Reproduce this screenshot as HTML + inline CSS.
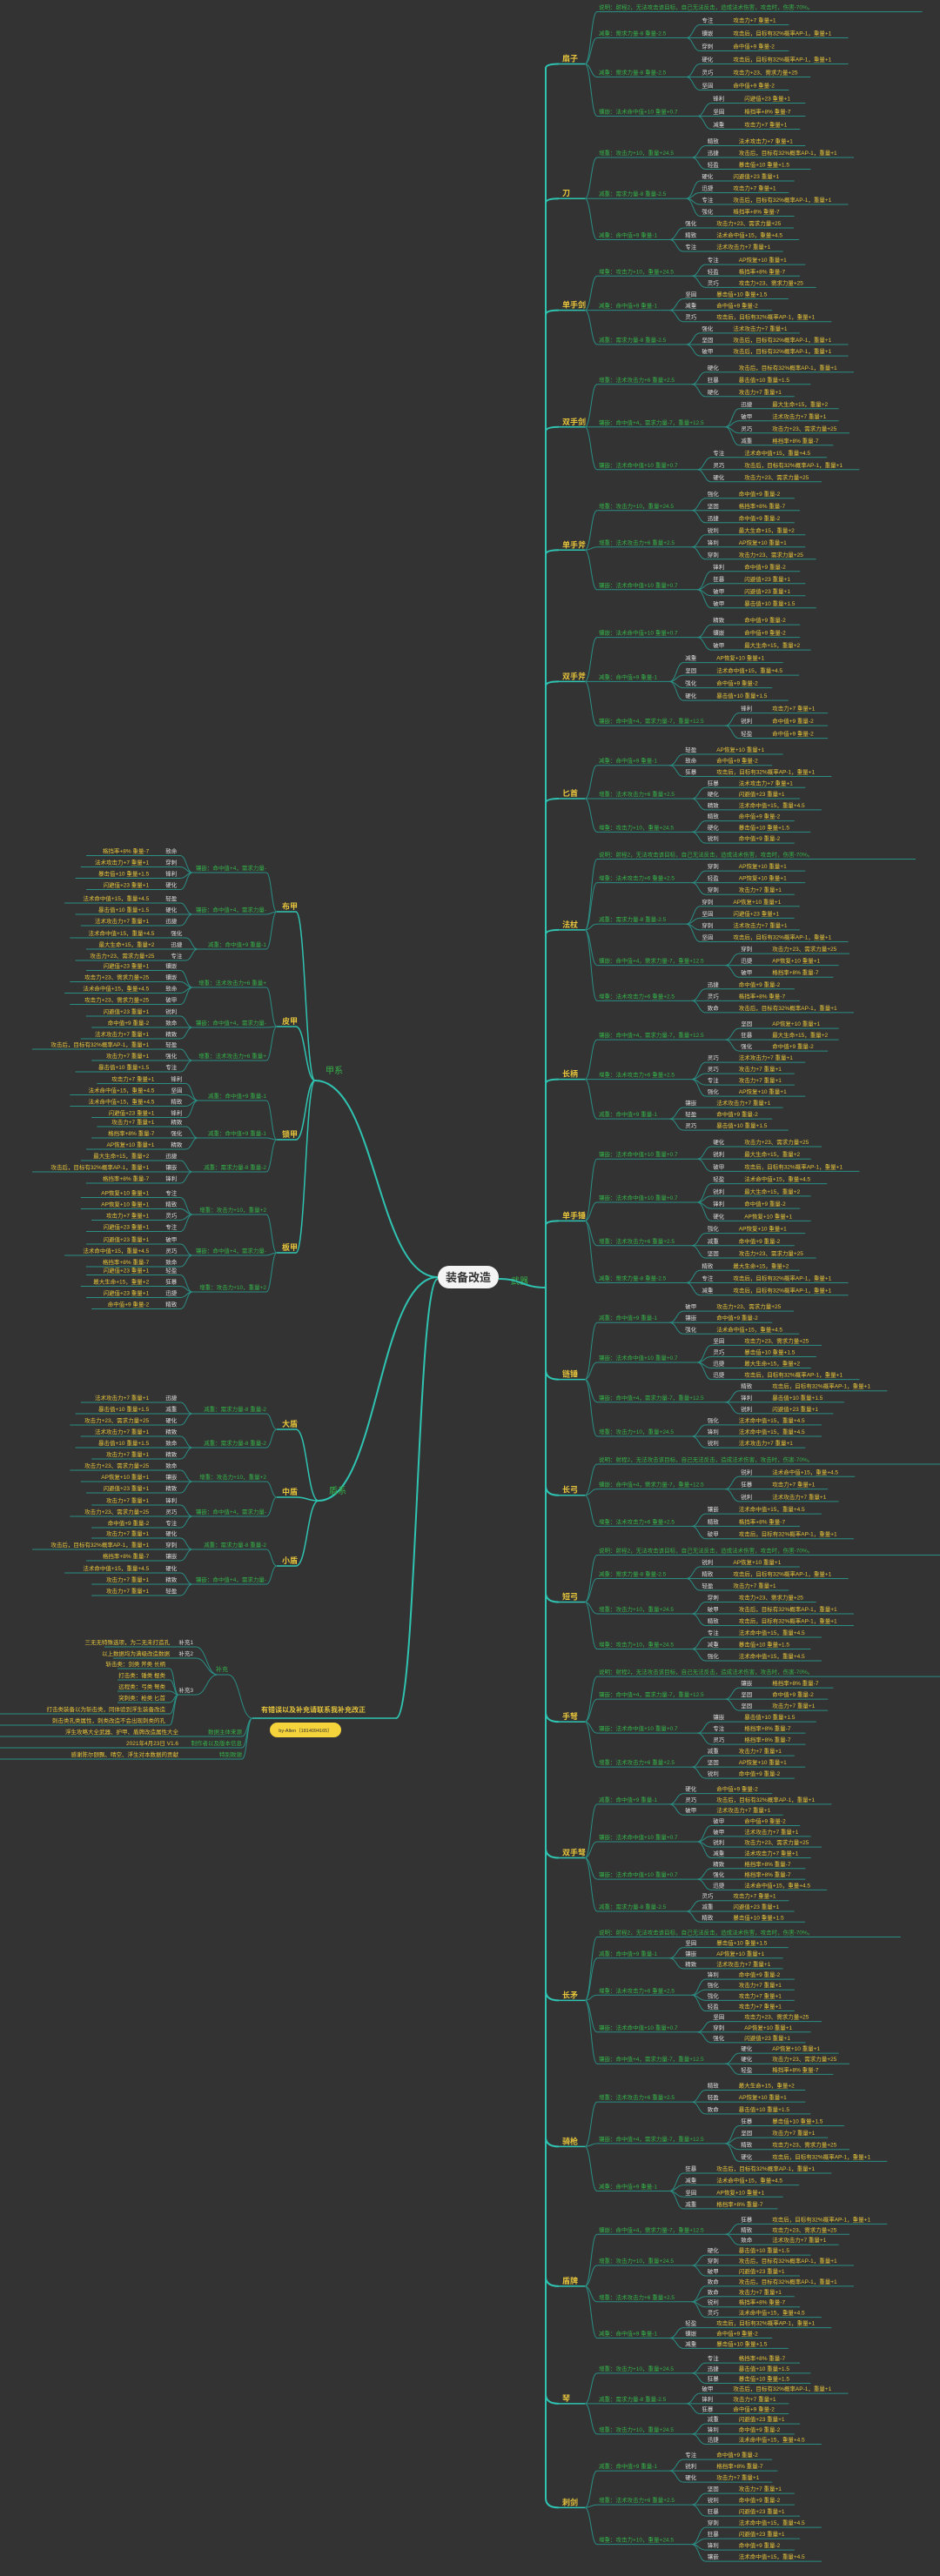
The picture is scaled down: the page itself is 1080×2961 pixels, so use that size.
<!DOCTYPE html>
<html><head><meta charset="utf-8">
<style>
html,body{margin:0;padding:0;background:#333333;}
svg{display:block;}
text{font-family:"Liberation Sans","Noto Sans CJK SC",sans-serif;}
</style></head>
<body>
<svg id="s" width="1080" height="2961" viewBox="0 0 1080 2961" xmlns="http://www.w3.org/2000/svg">
<rect width="1080" height="2961" fill="#333333"/>
<g id="g"></g>
</svg>
<script>
var G=document.getElementById('g'),NS='http://www.w3.org/2000/svg';
function el(t,a,txt){var e=document.createElementNS(NS,t);for(var k in a)e.setAttribute(k,a[k]);if(txt!=null)e.textContent=txt;G.appendChild(e);return e;}
function line(d,c,w){el('path',{d:d,fill:'none',stroke:c,'stroke-width':w});}
function tx(x,y,s,c,sz,anc,b){el('text',{x:x,y:y,fill:c,'font-size':sz,'text-anchor':anc||'start','font-weight':b?'bold':'normal'},s);}
function cv(x1,y1,x2,y2){var m=(x1+x2)/2;return 'M'+x1+' '+y1+' C'+m+' '+y1+' '+m+' '+y2+' '+x2+' '+y2;}
var seed=7;function rnd(){seed=(seed*9301+49297)%233280;return seed/233280;}
var TEAL='#2fc4b2',LT='#2a8f85',GR='#34b34a',YE='#e6c43c',WH='#dddddd';
var labs=['减重','精致','锋利','专注','硬化','强化','轻盈','坚固','镶嵌','锐利','灵巧','狂暴','致命','破甲','穿刺','迅捷'];
var vals=['命中值+9 重量-2','攻击力+7 重量+1','暴击值+10 重量+1.5','法术命中值+15，重量+4.5','攻击后，目标有32%概率AP-1，重量+1','AP恢复+10 重量+1','格挡率+8% 重量-7','闪避值+23 重量+1','攻击力+23、需求力量+25','最大生命+15，重量+2','法术攻击力+7 重量+1'];
var subs=['减重：命中值+9 重量-1','镶嵌：法术命中值+10 重量+0.7','增重：法术攻击力+6 重量+2.5','减重：需求力量-8 重量-2.5','镶嵌：命中值+4，需求力量-7，重量+12.5','增重：攻击力+10，重量+24.5'];
// center
el('rect',{x:503,y:1455,width:70,height:26,rx:13,fill:'#f4f4f4'});
tx(538,1473,'装备改造','#333',13,'middle',true);
// right
tx(597,1476,'武器',GR,10,'middle');
var R=[['扇子',0,150,1,[3,3,3]],['刀',155,290,0,[3,4,3]],['单手剑',292,410,0,[3,3,3]],['双手剑',415,555,0,[3,4,3]],['单手斧',560,700,0,[3,3,4]],['双手斧',705,850,0,[3,4,3]],['匕首',855,970,0,[3,3,3]],['法杖',975,1165,1,[3,4,3,3]],['长柄',1170,1300,0,[3,4,3]],['单手锤',1305,1490,0,[3,4,3,3]],['链锤',1495,1665,0,[3,4,3,3]],['长弓',1670,1770,1,[3,3]],['短弓',1775,1910,1,[3,3,3]],['手弩',1915,2045,1,[3,3,3]],['双手弩',2050,2210,0,[3,4,3,3]],['长矛',2215,2385,1,[3,4,3,3]],['骑枪',2390,2540,0,[3,4,4]],['盾牌',2545,2700,0,[3,3,4,3]],['琴',2705,2810,0,[3,3,3]],['刺剑',2815,2945,0,[3,3,4]]];
line('M573 1470 C600 1470 600 1480 627 1480',TEAL,2);
R.forEach(function(c){
 var rows=c[3]+c[4].reduce(function(a,b){return a+b},0),h=(c[2]-c[1])/rows,y=c[1]+h*0.7,sy=[],items=[];
 if(c[3]){sy.push(y);items.push({note:1,y:y});y+=h;}
 c[4].forEach(function(n){var ys=[];for(var i=0;i<n;i++){ys.push(y);y+=h;}var m=(ys[0]+ys[n-1])/2;sy.push(m);items.push({y:m,ls:ys});});
 var cy=(sy[0]+sy[sy.length-1])/2;
 var dy=cy>1480?1:-1;
 line('M627 1480 L627 '+(cy-dy*8)+' Q627 '+(cy+3)+' 642 '+(cy+3),TEAL,2);
 line('M642 '+(cy+3)+' L672 '+(cy+3),TEAL,1.5);
 tx(646,cy,c[0],YE,9,'start',true);
 items.forEach(function(it){
  if(it.note){var w=300+rnd()*150;line(cv(672,cy+3,686,it.y+3)+' L'+(686+w)+' '+(it.y+3),LT,1);tx(688,it.y,'说明：射程2，无法攻击该目标，自己无法反击，造成法术伤害，攻击时，伤害-70%。',GR,6.5);return;}
  var s=subs[Math.floor(rnd()*subs.length)],se=686+s.length*6.4;
  line(cv(672,cy+3,686,it.y+3)+' L'+se+' '+(it.y+3),LT,1);
  tx(688,it.y,s,GR,6.5);
  var lx=se+16;
  it.ls.forEach(function(ly){var v=vals[Math.floor(rnd()*vals.length)],le=lx+40+v.length*6.2;
   line(cv(se,it.y+3,lx,ly+3)+' L'+le+' '+(ly+3),LT,1);
   tx(lx+2,ly,labs[Math.floor(rnd()*labs.length)],WH,6.5);
   tx(lx+38,ly,v,YE,6.5);});
 });
});
// left
function leftGroup(hx,hy,name,lbl,cats){
 line(cv(503,1468,hx,hy),TEAL,2);
 tx(hx+12,hy-8,lbl,GR,10,'start');
 cats.forEach(function(c){
  var cy=c[1];
  line(cv(hx,hy,340,cy+3),TEAL,1.5);
  line('M340 '+(cy+3)+' L318 '+(cy+3),TEAL,1.5);
  tx(333,cy,c[0],YE,9,'middle',true);
  c[2].forEach(function(sb){
   var sy=sb[0],n=sb[1],s=subs[Math.floor(rnd()*subs.length)].slice(0,14),ss=308-s.length*6.2;
   line(cv(318,cy+3,306,sy+3)+' L'+ss+' '+(sy+3),LT,1);
   tx(306,sy,s,GR,6.5,'end');
   var le=ss-14;
   for(var i=0;i<n;i++){var ly=sy-(n-1)*6.5+i*13,v=vals[Math.floor(rnd()*vals.length)],ls=le-40-v.length*6.2;
    line(cv(ss,sy+3,le,ly+3)+' L'+Math.max(ls,2)+' '+(ly+3),LT,1);
    tx(le-4,ly,labs[Math.floor(rnd()*labs.length)],WH,6.5,'end');
    tx(le-36,ly,v,YE,6.5,'end');}
  });
 });
}
leftGroup(362,1242,'','甲系',[['布甲',1045,[[1000,4],[1048,3],[1088,3]]],['皮甲',1177,[[1132,4],[1178,3],[1216,3]]],['锁甲',1307,[[1262,4],[1305,3],[1344,3]]],['板甲',1437,[[1393,4],[1440,3],[1482,4]]]]);
leftGroup(366,1725,'','盾系',[['大盾',1640,[[1622,3],[1661,3]]],['中盾',1718,[[1700,3],[1740,3]]],['小盾',1797,[[1778,3],[1818,3]]]]);
// bottom note
line(cv(503,1470,455,1975),TEAL,2);
line('M455 1975 L290 1975',TEAL,1.5);
tx(300,1968,'有错误以及补充请联系我补充改正',YE,8,'start',true);
el('rect',{x:310,y:1980,width:82,height:17,rx:8.5,fill:'#f5d33a'});
tx(351,1991,'by-Allen（1814094165）','#333',5.5,'middle');
line(cv(290,1975,262,1925)+' L250 1925',LT,1);tx(262,1921,'补充',GR,7,'end');
[[1890,'三无无特殊选项，为二无未打造孔',120],[1903,'以上数据均为满级改造数据',130]].forEach(function(a,i){line(cv(250,1925,225,a[0]+3)+' L'+a[2]+' '+(a[0]+3),LT,1);tx(222,a[0],'补充'+(i+1),WH,6.5,'end');tx(195,a[0],a[1],YE,6.5,'end');});
line(cv(250,1925,225,1948)+' L205 1948',LT,1);tx(222,1945,'补充3',WH,6.5,'end');
['斩击类：剑类 斧类 长柄','打击类：锤类 棍类','远程类：弓类 弩类','突刺类：枪类 匕首','打击类装备以为斩击类，同体验到浮生装备改造','刺击类孔类属性，刺类改造不会出现刺类的孔'].forEach(function(t,i){var y=1915+i*13;line(cv(205,1948,195,y+3)+' L'+(i>3?0:135)+' '+(y+3),LT,1);tx(190,y,t,YE,6.5,'end');});
[[1993,'数据主体来源','浮生攻略大全武器、护甲、盾牌改造属性大全'],[2006,'制作者以及版本信息','2021年4月23日 V1.6'],[2019,'特别致谢','感谢陈尔颐飘、晴空、浮生对本数据的贡献']].forEach(function(a){line(cv(290,1975,278,a[0]+3)+' L'+(a[2].length>12?0:130)+' '+(a[0]+3),LT,1);tx(278,a[0],a[1],GR,6.5,'end');tx(205,a[0],a[2],YE,6.5,'end');});
</script>
</body></html>
